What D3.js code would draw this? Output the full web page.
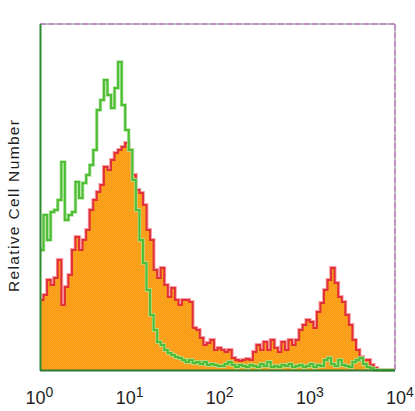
<!DOCTYPE html>
<html><head><meta charset="utf-8">
<script src="https://cdn.jsdelivr.net/npm/d3@7"></script>
<style>body{margin:0;background:#fff}svg{display:block}</style>
</head><body>
<script>
// Histogram channels: 100 bins over 4 log decades (10^0 .. 10^4)
const decades = [0, 1, 2, 3, 4];
const tickLabels = ["0", "1", "2", "3", "4"];
const yLabel = "Relative Cell Number";
// stained sample (orange fill, red edge)
const stained = [70,75,90,85,92,110,65,83,95,120,133,120,130,140,160,170,178,185,203,200,
  210,217,220,223,227,220,195,180,177,165,140,130,100,92,102,85,73,82,70,65,
  70,70,68,42,40,32,25,27,30,20,22,20,18,20,12,10,9,10,11,10,
  18,25,20,28,20,30,22,18,28,20,30,25,30,40,45,50,48,42,58,67,
  80,90,102,87,73,68,55,45,30,20,13,10,10,5,2,0,0,0,0,0];
// isotype control (green line)
const control = [120,155,130,158,160,170,208,150,155,158,188,172,187,195,205,220,260,270,290,275,
  262,282,308,265,240,220,190,160,130,107,80,55,40,28,25,20,17,15,13,12,
  10,8,10,7,8,6,8,5,6,5,4,4,6,8,5,3,5,4,3,5,
  4,3,6,4,8,3,4,3,5,4,6,3,4,5,3,4,6,3,5,4,
  10,12,6,4,10,5,4,3,8,10,12,6,3,2,0,0,0,0,0,0];

const W = 415, H = 411;
const L = 40, R = 395, T = 24, B = 370;
const svg = d3.select("body").append("svg").attr("width", W).attr("height", H);

const x = d3.scaleLog().domain([1, 1e4]).range([L, R]);
const xLab = d3.scaleLog().domain([1, 1e4]).range([39.5, 400]);
const y = d3.scaleLinear().domain([0, 346]).range([B, T]);

const nBins = stained.length;
const step = 4 / nBins;
const edges = d3.range(nBins + 1).map(i => Math.pow(10, i * step));
const toPts = arr => arr.map((v, i) => [edges[i], v]).concat([[edges[nBins], arr[nBins - 1]]]);

const defs = svg.append("defs");
const pat = defs.append("pattern").attr("id", "dith").attr("width", 2).attr("height", 2)
  .attr("patternUnits", "userSpaceOnUse");
pat.append("rect").attr("width", 2).attr("height", 2).attr("fill", "#ffa512");
pat.append("rect").attr("width", 1).attr("height", 1).attr("fill", "#f29a22");
pat.append("rect").attr("x", 1).attr("y", 1).attr("width", 1).attr("height", 1).attr("fill", "#f29a22");

const area = d3.area().x(d => x(d[0])).y0(y(0)).y1(d => y(d[1])).curve(d3.curveStepAfter);
const line = d3.line().x(d => x(d[0])).y(d => y(d[1])).curve(d3.curveStepAfter);

const sPts = toPts(stained);
svg.append("path").attr("d", line(sPts)).attr("fill", "none")
  .attr("stroke", "#f6a0a6").attr("stroke-width", 3.8);
svg.append("path").attr("d", area(sPts)).attr("fill", "url(#dith)");
svg.append("path").attr("d", line(sPts)).attr("fill", "none")
  .attr("stroke", "#e2303a").attr("stroke-width", 2);

const cPts = toPts(control);
svg.append("path").attr("d", line(cPts)).attr("fill", "none")
  .attr("stroke", "#aee39a").attr("stroke-width", 3.4);
svg.append("path").attr("d", line(cPts)).attr("fill", "none")
  .attr("stroke", "#4cbd34").attr("stroke-width", 2);

// frame
svg.append("line").attr("x1", L).attr("x2", R).attr("y1", T).attr("y2", T)
  .attr("stroke", "#a7b0a5").attr("stroke-width", 1.5);
svg.append("line").attr("x1", L).attr("x2", R).attr("y1", T).attr("y2", T)
  .attr("stroke", "#c08cc2").attr("stroke-width", 1.8).attr("stroke-dasharray", "6,2.5");
svg.append("line").attr("x1", R).attr("x2", R).attr("y1", T).attr("y2", B)
  .attr("stroke", "#a7b0a5").attr("stroke-width", 1.5);
svg.append("line").attr("x1", R).attr("x2", R).attr("y1", T).attr("y2", B)
  .attr("stroke", "#c08cc2").attr("stroke-width", 1.8).attr("stroke-dasharray", "6,2.5");
svg.append("line").attr("x1", L + 0.5).attr("x2", L + 0.5).attr("y1", T).attr("y2", B + 1)
  .attr("stroke", "#2f8a32").attr("stroke-width", 2);
svg.append("line").attr("x1", L).attr("x2", R).attr("y1", B + 0.5).attr("y2", B + 0.5)
  .attr("stroke", "#2f7a36").attr("stroke-width", 2);

// x tick labels 10^k
const g = svg.append("g").attr("font-family", "Liberation Sans, Arial, sans-serif").attr("fill", "#1e1e1e");
decades.forEach((k, i) => {
  const t = g.append("text").attr("x", xLab(Math.pow(10, k))).attr("y", 404)
    .attr("text-anchor", "middle").attr("font-size", 18);
  t.append("tspan").text("10");
  t.append("tspan").attr("dy", -7).attr("font-size", 14).text(tickLabels[i]);
});

// y label
svg.append("text").attr("transform", "translate(19,206) rotate(-90)")
  .attr("text-anchor", "middle").attr("font-family", "Liberation Sans, Arial, sans-serif")
  .attr("font-size", 15.5).attr("fill", "#1e1e1e")
  .attr("textLength", 172).attr("lengthAdjust", "spacing").text(yLabel);
</script>
</body></html>
